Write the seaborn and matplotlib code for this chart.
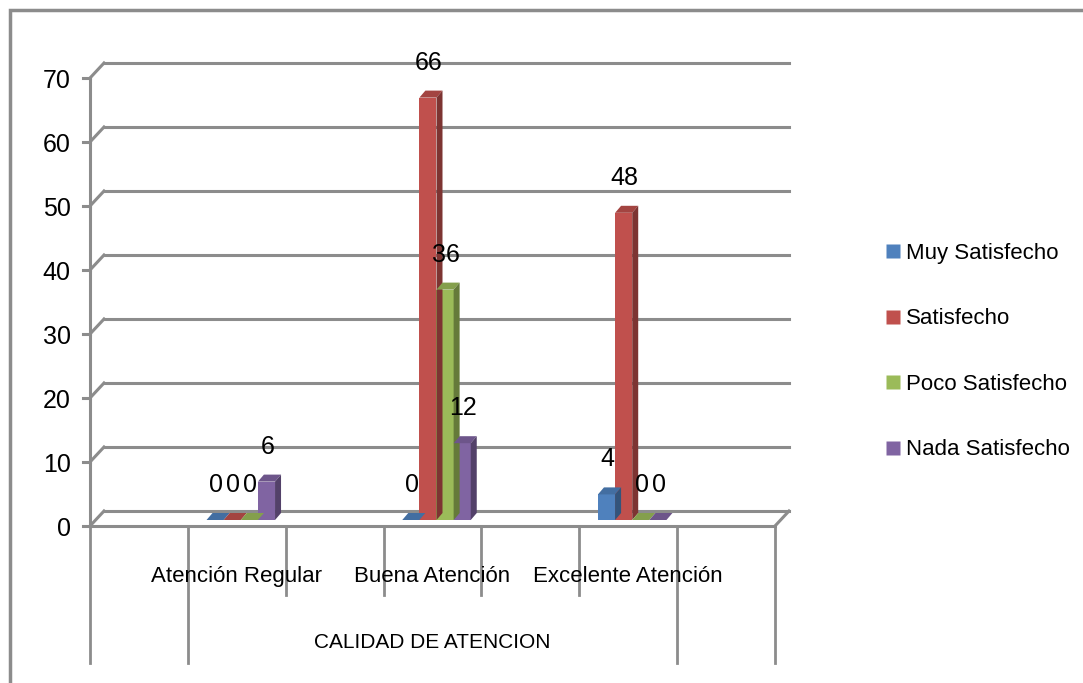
# %% Imports
import matplotlib.pyplot as plt
import numpy as np
import pandas as pd
import seaborn as sns
from matplotlib.colors import to_rgb
from matplotlib.lines import Line2D
from matplotlib.patches import Polygon, Rectangle
from matplotlib.transforms import ScaledTranslation

# %% Data
categorias = ["Atención Regular", "Buena Atención", "Excelente Atención"]
series = ["Muy Satisfecho", "Satisfecho", "Poco Satisfecho", "Nada Satisfecho"]
muy_satisfecho = [0, 0, 4]
satisfecho = [0, 66, 48]
poco_satisfecho = [0, 36, 0]
nada_satisfecho = [6, 12, 0]
y_ticks = [0, 10, 20, 30, 40, 50, 60, 70]
eje_titulo = "CALIDAD DE ATENCION"

# blank slots between categories (as in the original spreadsheet layout)
orden = ["", categorias[0], " ", categorias[1], "  ", categorias[2], "   "]

COLOURS = ["#4F81BD", "#C0504D", "#9BBB59", "#8064A2"]
GRID = "#8C8C8C"

df = pd.DataFrame(
    {
        "calidad": categorias * 4,
        "satisfaccion": np.repeat(series, 3),
        "valor": muy_satisfecho + satisfecho + poco_satisfecho + nada_satisfecho,
    }
)

# %% Figure
plt.rcParams["font.family"] = ["Liberation Sans", "DejaVu Sans"]
FS = 16
W, H = 1083, 683
fig = plt.figure(figsize=(W / 100, H / 100), dpi=100)

# axes front plane: x from 90px to 775px, value 0 at y=526px, 70 at y=78px
x0, x1, y0, y1 = 90, 775, 526, 78
ax = fig.add_axes([x0 / W, 1 - y0 / H, (x1 - x0) / W, (y0 - y1) / H])
sx = 7 / (x1 - x0)  # data units per px
sy = 70 / (y0 - y1)

# outer frame
fig.patches.append(
    Rectangle((10 / W, -0.1), 1.2, 1 - 10 / H + 0.1, transform=fig.transFigure,
              fill=False, edgecolor="#8C8C8C", lw=2.5)
)

sns.barplot(
    data=df, x="calidad", y="valor", hue="satisfaccion", order=orden,
    hue_order=series, palette=COLOURS, width=0.7, saturation=1,
    errorbar=None, ax=ax, legend=False, zorder=3,
)
ax.set_xlim(-0.5, 6.5)
ax.set_ylim(0, 70)

for s in ax.spines.values():
    s.set_visible(False)

# 3D walls: back gridlines + diagonals
gdx, gdy = 14 * sx, 15 * sy
for v in y_ticks:
    ax.plot([-0.5 + gdx, 6.5 + gdx], [v + gdy, v + gdy], color=GRID, lw=2.2,
            clip_on=False, zorder=1)
    ax.plot([-0.5, -0.5 + gdx], [v, v + gdy], color=GRID, lw=2.2, clip_on=False, zorder=1)
    ax.plot([-0.5 - 7 * sx, -0.5], [v, v], color=GRID, lw=2.2, clip_on=False, zorder=1)
ax.plot([-0.5, -0.5], [0, 70], color=GRID, lw=2.2, clip_on=False, zorder=1)
# floor
ax.plot([-0.5, 6.5], [0, 0], color=GRID, lw=2.2, clip_on=False, zorder=2)
ax.plot([6.5, 6.5 + gdx], [0, gdy], color=GRID, lw=2.2, clip_on=False, zorder=2)

# category separators below the floor
for i, xb in enumerate(np.arange(-0.5, 7, 1)):
    bottom = 663 if i in (0, 1, 6, 7) else 595
    ax.plot([xb, xb], [0, -(bottom - y0) * sy], color=GRID, lw=2,
            clip_on=False, zorder=1)

# 3D bars: shift front faces into the middle of the depth, add top & side faces
ox, oy = 4 * sx, 6 * sy
bdx, bdy = 6 * sx, 7 * sy
shift = ScaledTranslation(4 / 100, 6 / 100, fig.dpi_scale_trans)
bars = [p for p in ax.patches if isinstance(p, Rectangle)]
for p in bars:
    xl, w, h = p.get_x(), p.get_width(), p.get_height()
    if np.isnan(h) or w == 0:
        continue
    base = np.array(to_rgb(p.get_facecolor()))
    p.set_transform(ax.transData + shift)
    p.set_edgecolor("none")
    p.set_clip_on(False)
    xl2, xr2, yt = xl + ox, xl + w + ox, h + oy
    top = Polygon([(xl2, yt), (xr2, yt), (xr2 + bdx, yt + bdy), (xl2 + bdx, yt + bdy)],
                  closed=True, facecolor=base * 0.85, edgecolor="none", zorder=4,
                  clip_on=False)
    side = Polygon([(xr2, oy), (xr2, yt), (xr2 + bdx, yt + bdy), (xr2 + bdx, oy + bdy)],
                   closed=True, facecolor=base * 0.65, edgecolor="none", zorder=4,
                   clip_on=False)
    ax.add_patch(top)
    ax.add_patch(side)
    ax.text(xl2 + w / 2 + 1 * sx, yt + 35 * sy, f"{h:.0f}", ha="center", va="center",
            fontsize=FS + 2, color="black", zorder=6, clip_on=False)

# ticks
ax.set_yticks(y_ticks)
ax.tick_params(axis="y", length=0, pad=14, labelsize=FS + 2)
ax.set_xticks([1, 3, 5], categorias)
ax.tick_params(axis="x", length=0, pad=29, labelsize=FS)
ax.set_xlabel("")
ax.set_ylabel("")
ax.text(3, -(643 - y0) * sy, eje_titulo, ha="center", va="center", fontsize=FS - 1,
        clip_on=False)

# legend
handles = [Line2D([], [], marker="s", ls="none", markersize=10, markerfacecolor=c,
                  markeredgecolor="none") for c in COLOURS]
fig.legend(handles, series, loc="upper left", bbox_to_anchor=(862 / W, 1 - 223 / H),
           frameon=False, fontsize=FS, labelspacing=2.0, handletextpad=0.1,
           handlelength=1.0)

fig.savefig("out.png", dpi=100)
